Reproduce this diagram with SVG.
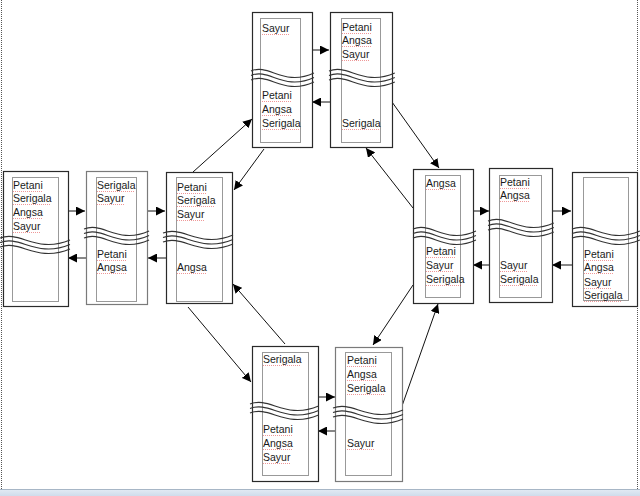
<svg xmlns="http://www.w3.org/2000/svg" width="640" height="496" viewBox="0 0 640 496">
<style>
.box{fill:#fff;stroke:#2a2a2a;stroke-width:1.2}
.boxg{fill:#fff;stroke:#7a7a7a;stroke-width:1.2}
.inner{fill:none;stroke:#333;stroke-width:1;stroke-dasharray:1 1}
.t{font-family:"Liberation Sans",Arial,sans-serif;font-size:10.5px;fill:#1a1a1a}
.wv{fill:none;stroke:#333;stroke-width:1.1}
.sp{stroke:#e03a3a;stroke-width:0.7;stroke-dasharray:1 1;stroke-opacity:0.75}
.c{stroke:#111;stroke-width:1;fill:none;marker-end:url(#ah)}
.pg{stroke:#555;stroke-width:1;stroke-dasharray:1 1;fill:none}
</style>
<defs>
<marker id="ah" viewBox="0 0 10 10" refX="10" refY="5" markerWidth="9" markerHeight="9" markerUnits="userSpaceOnUse" orient="auto">
<path d="M0,0 L10,5 L0,10 z" fill="#000"/>
</marker>
<g id="wave">
<path class="wv" d="M0,0 C20,-8 36,16 70,2"/>
<path class="wv" d="M0,4.5 C20,-3.5 36,20.5 70,6.5"/>
<path class="wv" d="M0,9 C20,1 36,25 70,11"/>
</g>
<linearGradient id="bar" x1="0" y1="0" x2="0" y2="1">
<stop offset="0" stop-color="#e4ecf5"/>
<stop offset="1" stop-color="#cfdceb"/>
</linearGradient>
</defs>
<rect width="640" height="496" fill="#fff"/>
<path class="pg" d="M1.5,0 V489 M637.5,0 V489"/>
<rect x="0" y="489" width="640" height="7" fill="url(#bar)"/>
<line x1="0" y1="489.5" x2="640" y2="489.5" stroke="#a7b6c6" stroke-width="1"/>

<g id="connectors">
<line class="c" x1="68" y1="211" x2="85" y2="211"/>
<line class="c" x1="86" y1="258" x2="68" y2="258"/>
<line class="c" x1="148" y1="211" x2="165" y2="211"/>
<line class="c" x1="166" y1="258" x2="148" y2="258"/>
<line class="c" x1="193" y1="172" x2="252" y2="119"/>
<line class="c" x1="264" y1="149" x2="234" y2="190"/>
<line class="c" x1="312" y1="50" x2="329" y2="50"/>
<line class="c" x1="330" y1="102" x2="312" y2="102"/>
<line class="c" x1="392" y1="102" x2="439" y2="168"/>
<line class="c" x1="413" y1="208" x2="366" y2="148"/>
<line class="c" x1="473" y1="211" x2="489" y2="211"/>
<line class="c" x1="489" y1="265" x2="473" y2="265"/>
<line class="c" x1="552" y1="211" x2="571" y2="211"/>
<line class="c" x1="572" y1="265" x2="552" y2="265"/>
<line class="c" x1="188" y1="307" x2="251" y2="382"/>
<line class="c" x1="285" y1="344" x2="233" y2="284"/>
<line class="c" x1="318" y1="397" x2="335" y2="397"/>
<line class="c" x1="335" y1="431" x2="318" y2="431"/>
<line class="c" x1="402" y1="406" x2="438" y2="304"/>
<line class="c" x1="413" y1="285" x2="373" y2="345"/>
</g>

<g id="n1">
<rect class="box" x="3.5" y="171.5" width="65" height="135"/>
<rect class="inner" x="12.5" y="177.5" width="46" height="124"/>
<text class="t" x="13" y="189">Petani</text>
<text class="t" x="13" y="202">Serigala</text>
<text class="t" x="13" y="216">Angsa</text>
<text class="t" x="13" y="230">Sayur</text>
<path class="sp" d="M13,191.5h30M13,204.5h38M13,218.5h30M13,232.5h27"/>
<use href="#wave" transform="translate(0,238)"/>
</g>

<g id="n2">
<rect class="boxg" x="86.5" y="171.5" width="61" height="133"/>
<rect class="inner" x="96.5" y="177.5" width="40" height="124"/>
<text class="t" x="97" y="189">Serigala</text>
<text class="t" x="97" y="202">Sayur</text>
<text class="t" x="97" y="258">Petani</text>
<text class="t" x="97" y="271">Angsa</text>
<path class="sp" d="M97,191.5h38M97,204.5h27M97,260.5h30M97,273.5h30"/>
<use href="#wave" transform="translate(84,229) scale(0.93,1)"/>
</g>

<g id="n3">
<rect class="box" x="166.5" y="172.5" width="66" height="131"/>
<rect class="inner" x="176.5" y="177.5" width="46" height="124"/>
<text class="t" x="177" y="191">Petani</text>
<text class="t" x="177" y="204">Serigala</text>
<text class="t" x="177" y="218">Sayur</text>
<text class="t" x="177" y="271">Angsa</text>
<path class="sp" d="M177,193.5h30M177,206.5h38M177,220.5h27M177,273.5h30"/>
<use href="#wave" transform="translate(163,233)"/>
</g>

<g id="n4">
<rect class="box" x="252.5" y="12.5" width="60" height="135"/>
<rect class="inner" x="260.5" y="18.5" width="40" height="124"/>
<text class="t" x="262" y="32">Sayur</text>
<text class="t" x="262" y="99">Petani</text>
<text class="t" x="262" y="113">Angsa</text>
<text class="t" x="262" y="127">Serigala</text>
<path class="sp" d="M262,34.5h27M262,101.5h30M262,115.5h30M262,129.5h38"/>
<use href="#wave" transform="translate(251,71) scale(0.9,1)"/>
</g>

<g id="n5">
<rect class="box" x="330.5" y="12.5" width="62" height="135"/>
<rect class="inner" x="341.5" y="18.5" width="39" height="124"/>
<text class="t" x="342" y="31">Petani</text>
<text class="t" x="342" y="44">Angsa</text>
<text class="t" x="342" y="58">Sayur</text>
<text class="t" x="342" y="127">Serigala</text>
<path class="sp" d="M342,33.5h30M342,46.5h30M342,60.5h27M342,129.5h38"/>
<use href="#wave" transform="translate(329,71) scale(0.94,1)"/>
</g>

<g id="n6">
<rect class="box" x="413.5" y="169.5" width="60" height="134"/>
<rect class="inner" x="425.5" y="175.5" width="35" height="122"/>
<text class="t" x="426" y="187">Angsa</text>
<text class="t" x="426" y="255">Petani</text>
<text class="t" x="426" y="269">Sayur</text>
<text class="t" x="426" y="283">Serigala</text>
<path class="sp" d="M426,189.5h30M426,257.5h30M426,271.5h27M426,285.5h36"/>
<use href="#wave" transform="translate(413,229) scale(0.9,1)"/>
</g>

<g id="n7">
<rect class="box" x="489.5" y="168.5" width="63" height="134"/>
<rect class="inner" x="499.5" y="175.5" width="42" height="122"/>
<text class="t" x="500" y="186">Petani</text>
<text class="t" x="500" y="199">Angsa</text>
<text class="t" x="500" y="269">Sayur</text>
<text class="t" x="500" y="283">Serigala</text>
<path class="sp" d="M500,188.5h30M500,201.5h30M500,271.5h27M500,285.5h38"/>
<use href="#wave" transform="translate(488,221) scale(0.94,1)"/>
</g>

<g id="n8">
<rect class="box" x="572.5" y="172.5" width="65" height="134"/>
<rect class="inner" x="583.5" y="177.5" width="45" height="123"/>
<text class="t" x="584" y="258">Petani</text>
<text class="t" x="584" y="271">Angsa</text>
<text class="t" x="584" y="286">Sayur</text>
<text class="t" x="584" y="299">Serigala</text>
<path class="sp" d="M584,260.5h30M584,273.5h30M584,288.5h27M584,301.5h38"/>
<use href="#wave" transform="translate(572,229) scale(0.97,1)"/>
</g>

<g id="n9">
<rect class="box" x="252.5" y="346.5" width="66" height="135"/>
<rect class="inner" x="262.5" y="352.5" width="46" height="123"/>
<text class="t" x="263" y="363">Serigala</text>
<text class="t" x="263" y="433">Petani</text>
<text class="t" x="263" y="447">Angsa</text>
<text class="t" x="263" y="461">Sayur</text>
<path class="sp" d="M263,365.5h38M263,435.5h30M263,449.5h30M263,463.5h27"/>
<use href="#wave" transform="translate(250,404) scale(0.98,1)"/>
</g>

<g id="n10">
<rect class="boxg" x="335.5" y="347.5" width="67" height="134"/>
<rect class="inner" x="345.5" y="352.5" width="46" height="123"/>
<text class="t" x="347" y="364">Petani</text>
<text class="t" x="347" y="378">Angsa</text>
<text class="t" x="347" y="392">Serigala</text>
<text class="t" x="347" y="447">Sayur</text>
<path class="sp" d="M347,366.5h30M347,380.5h30M347,394.5h38M347,449.5h27"/>
<use href="#wave" transform="translate(333,408)"/>
</g>
</svg>
